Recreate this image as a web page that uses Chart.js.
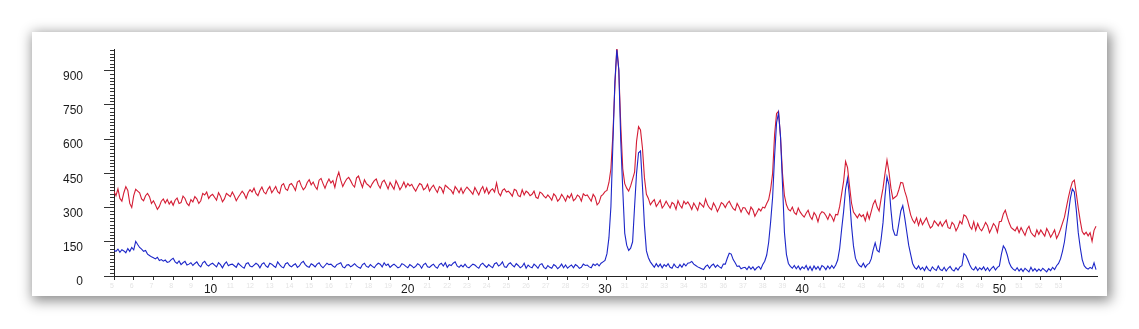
<!DOCTYPE html>
<html>
<head>
<meta charset="utf-8">
<script src="https://cdn.jsdelivr.net/npm/chart.js@4"></script>
<style>
  html, body { margin: 0; padding: 0; background: #fff; }
  body { width: 1139px; height: 329px; position: relative; overflow: hidden; }
  #card {
    position: absolute; left: 32px; top: 32px; width: 1075px; height: 264px;
    background: #fff;
    box-shadow: 2px 3px 12px 2px rgba(0, 0, 0, 0.45);
  }
  #mycanvas { display: block; }
</style>
</head>
<body>
<div id="card"><canvas id="mycanvas" width="1075" height="264"></canvas></div>
<script>
// scan grid (2-theta, degrees)
var twoThetaStart = 5.0;
var twoThetaStep = 0.1;

// upper (red) pattern, one row per degree: x.0 .. x.9
var redCounts = [
  370,352,382,340,328,365,392,375,318,300, // 5
  352,380,372,365,338,330,352,362,348,318, // 6
  330,312,292,305,328,338,320,335,315,328, // 7
  310,332,342,318,322,350,340,318,308,335, // 8
  325,348,338,318,330,362,355,368,340,352, // 9
  358,345,332,365,350,325,338,362,355,348, // 10
  368,352,330,345,358,372,360,340,365,378, // 11
  368,385,362,352,375,390,368,360,380,392, // 12
  365,378,392,370,362,398,405,382,375,400, // 13
  405,392,375,412,418,395,378,388,410,422, // 14
  400,412,392,380,420,428,405,385,408,425, // 15
  408,418,388,430,455,420,392,410,425,432, // 16
  418,400,390,430,438,412,388,422,405,398, // 17
  388,405,418,425,400,385,412,420,402,382, // 18
  410,395,380,418,400,378,392,412,388,405, // 19
  395,402,385,372,390,405,400,378,385,402, // 20
  372,388,398,380,366,392,385,364,398,390, // 21
  382,375,360,392,380,365,386,362,378,390, // 22
  380,370,358,388,372,355,378,392,365,386, // 23
  360,375,382,368,408,365,352,375,382,368, // 24
  372,362,350,380,375,352,348,378,355,372, // 25
  365,352,358,372,345,340,368,362,350,342, // 26
  355,345,332,360,350,328,338,358,345,328, // 27
  352,342,360,330,338,355,348,328,360,352, // 28
  355,342,328,358,345,312,322,350,358,370, // 29
  375,410,470,620,830,1005,900,660,470,405, // 30
  385,372,395,425,455,590,655,640,560,430, // 31
  358,340,312,325,335,305,318,332,298,310, // 32
  328,312,298,322,315,292,330,310,298,328, // 33
  315,325,310,292,320,305,288,322,312,302, // 34
  338,312,298,290,320,305,282,300,322,315, // 35
  300,318,328,310,295,288,318,302,280,300, // 36
  298,282,270,302,290,262,278,295,285,302, // 37
  298,318,335,380,450,620,712,722,610,450, // 38
  352,312,292,285,302,278,270,298,280,268, // 39
  258,275,288,262,248,278,265,238,270,282, // 40
  278,265,248,272,260,240,270,268,305,360, // 41
  415,502,475,395,320,280,268,255,272,260, // 42
  268,242,278,250,282,315,332,302,285,338, // 43
  385,450,508,455,385,338,345,352,378,410, // 44
  408,372,345,305,268,245,232,255,222,250, // 45
  225,240,255,230,210,218,242,232,220,238, // 46
  218,232,245,212,208,235,225,198,215,240, // 47
  228,268,262,245,218,205,238,200,230,208, // 48
  198,215,235,220,190,208,230,218,192,238, // 49
  240,272,288,258,232,212,205,198,215,190, // 50
  212,195,178,205,218,192,180,172,202,182, // 51
  202,188,175,208,192,170,185,202,165,182, // 52
  205,232,258,302,345,382,412,420,362,298, // 53
  242,195,182,192,176,190,152,200,218      // 54
];

// lower (blue) pattern
var blueCounts = [
  112,108,118,104,115,110,102,120,108,125, // 5
  115,152,138,125,118,108,112,96,90,84,    // 6
  80,75,82,68,72,65,70,60,62,72,           // 7
  78,62,55,66,50,58,64,48,52,58,           // 8
  46,55,62,48,40,58,64,50,44,52,           // 9
  56,48,40,58,50,36,52,62,45,50,           // 10
  52,45,38,56,48,40,34,54,58,44,           // 11
  40,48,56,50,36,52,58,44,38,56,           // 12
  52,44,38,62,50,40,36,54,58,46,           // 13
  40,48,54,38,44,58,64,50,42,38,           // 14
  54,48,40,52,58,44,36,46,56,50,           // 15
  52,44,38,50,54,58,40,36,48,50,           // 16
  40,46,54,44,38,34,50,56,42,38,           // 17
  50,42,36,48,56,52,40,58,46,52,           // 18
  38,46,52,44,36,40,54,50,42,36,           // 19
  50,44,36,42,54,48,34,50,56,40,           // 20
  38,46,52,40,34,50,56,44,58,38,           // 21
  50,46,56,62,44,38,48,40,52,40,           // 22
  36,44,52,48,40,34,50,56,46,38,           // 23
  50,42,36,54,58,44,50,62,40,38,           // 24
  52,58,48,40,54,46,36,42,56,34,           // 25
  48,40,36,52,44,34,50,54,38,32,           // 26
  46,38,34,50,44,32,40,52,36,48,           // 27
  34,42,48,36,50,44,34,38,52,46,           // 28
  48,40,36,52,46,54,44,56,62,68,           // 29
  98,168,305,580,850,992,905,590,378,188,  // 30
  135,112,122,150,305,450,540,548,392,222, // 31
  110,80,62,50,38,54,40,52,36,50,          // 32
  42,54,38,34,52,40,36,50,38,54,           // 33
  44,56,58,64,52,46,40,36,32,28,           // 34
  42,48,34,46,52,38,48,40,34,52,           // 35
  52,78,100,96,72,58,42,44,32,36,          // 36
  38,28,42,30,40,26,36,42,30,50,           // 37
  65,92,148,238,345,525,672,715,612,405,   // 38
  190,95,55,42,34,46,32,44,28,40,          // 39
  32,46,26,42,24,44,30,42,26,46,           // 40
  40,28,44,32,46,34,48,70,120,205,         // 41
  282,380,428,345,222,132,78,58,46,40,     // 42
  56,38,50,55,75,115,145,112,105,160,      // 43
  235,350,435,400,290,205,180,178,230,285, // 44
  308,255,195,135,95,55,38,30,44,28,       // 45
  38,24,42,28,22,40,30,24,44,28,           // 46
  24,38,22,34,42,28,22,36,26,40,           // 47
  45,98,90,70,48,32,26,40,24,36,           // 48
  28,40,24,36,22,34,42,26,38,44,           // 49
  95,132,118,92,58,40,30,24,36,22,         // 50
  32,20,34,26,18,38,22,32,20,30,           // 51
  22,34,26,18,32,24,38,28,45,55,           // 52
  75,108,150,215,275,340,382,368,290,190,  // 53
  125,72,45,35,30,38,32,58,28              // 54
];

// axis ticks
var yTickValues = [0, 150, 300, 450, 600, 750, 900];
var xLabelValues = [10, 20, 30, 40, 50];
var xMin = 5, xMax = 54.85;
var yMin = 0, yMax = 995;

var fontFamily = "'Liberation Sans', Arial, sans-serif";

function toPoints(counts) {
  var pts = [];
  for (var i = 0; i < counts.length; i++) {
    pts.push({ x: Math.round((twoThetaStart + i * twoThetaStep) * 10) / 10, y: counts[i] });
  }
  return pts;
}

// small ticks every 15 counts on the left axis
var minorTicks = {
  id: 'minorTicks',
  afterDraw: function(chart) {
    var ctx = chart.ctx;
    var y = chart.scales.y;
    var left = chart.chartArea.left;
    ctx.save();
    ctx.strokeStyle = '#333';
    ctx.lineWidth = 1;
    ctx.beginPath();
    for (var v = 15; v <= yMax; v += 15) {
      if (v % 150 === 0) continue;
      var py = Math.round(y.getPixelForValue(v)) + 0.5;
      ctx.moveTo(left - 4, py);
      ctx.lineTo(left, py);
    }
    ctx.stroke();
    ctx.restore();
  }
};

var isLabelled = function(v) {
  return xLabelValues.indexOf(Math.round(v)) !== -1;
};

var chartdata = {
  datasets: [
    {
      label: "Sample B",
      data: toPoints(blueCounts),
      borderColor: "rgb(28, 38, 200)",
      borderWidth: 1.1,
      pointRadius: 0,
      fill: false
    },
    {
      label: "Sample A",
      data: toPoints(redCounts),
      borderColor: "rgb(212, 28, 52)",
      borderWidth: 1.1,
      pointRadius: 0,
      fill: false
    }
  ]
};

var ctx = document.getElementById('mycanvas');

var LineGraph = new Chart(ctx, {
  type: 'line',
  data: chartdata,
  plugins: [minorTicks],
  options: {
    responsive: false,
    animation: false,
    devicePixelRatio: 1,
    layout: { padding: { top: 17, right: 10, left: 0, bottom: 0 } },
    plugins: {
      legend: { display: false },
      tooltip: { enabled: false }
    },
    elements: { line: { tension: 0 } },
    scales: {
      x: {
        type: 'linear',
        min: xMin,
        max: xMax,
        afterFit: function(scale) {
          scale.height = 20;
          scale.paddingLeft = 0;
          scale.paddingRight = 0;
        },
        afterBuildTicks: function(scale) {
          scale.ticks = scale.ticks.filter(function(t) {
            return Math.abs(t.value - Math.round(t.value)) < 1e-6;
          });
        },
        border: { display: true, color: '#222', width: 1 },
        grid: { drawOnChartArea: false, drawTicks: true, tickLength: 4, color: '#333' },
        ticks: {
          stepSize: 1,
          autoSkip: false,
          maxRotation: 0,
          padding: 2,
          labelOffset: -2,
          callback: function(v) { return String(Math.round(v)); },
          color: function(c) {
            return c.tick && isLabelled(c.tick.value) ? '#1a1a1a' : '#e4e4e4';
          },
          font: function(c) {
            return { family: fontFamily, size: c.tick && isLabelled(c.tick.value) ? 12 : 7 };
          }
        }
      },
      y: {
        min: yMin,
        max: yMax,
        afterFit: function(scale) {
          scale.width = 82;
          scale.paddingTop = 0;
          scale.paddingBottom = 0;
        },
        afterBuildTicks: function(scale) {
          scale.ticks = yTickValues.map(function(v) { return { value: v }; });
        },
        border: { display: true, color: '#222', width: 1 },
        grid: { drawOnChartArea: false, drawTicks: true, tickLength: 10, color: '#333' },
        ticks: {
          stepSize: 150,
          padding: 21,
          labelOffset: 6,
          color: '#1a1a1a',
          font: { family: fontFamily, size: 12 }
        }
      }
    }
  }
});
</script>
</body>
</html>
